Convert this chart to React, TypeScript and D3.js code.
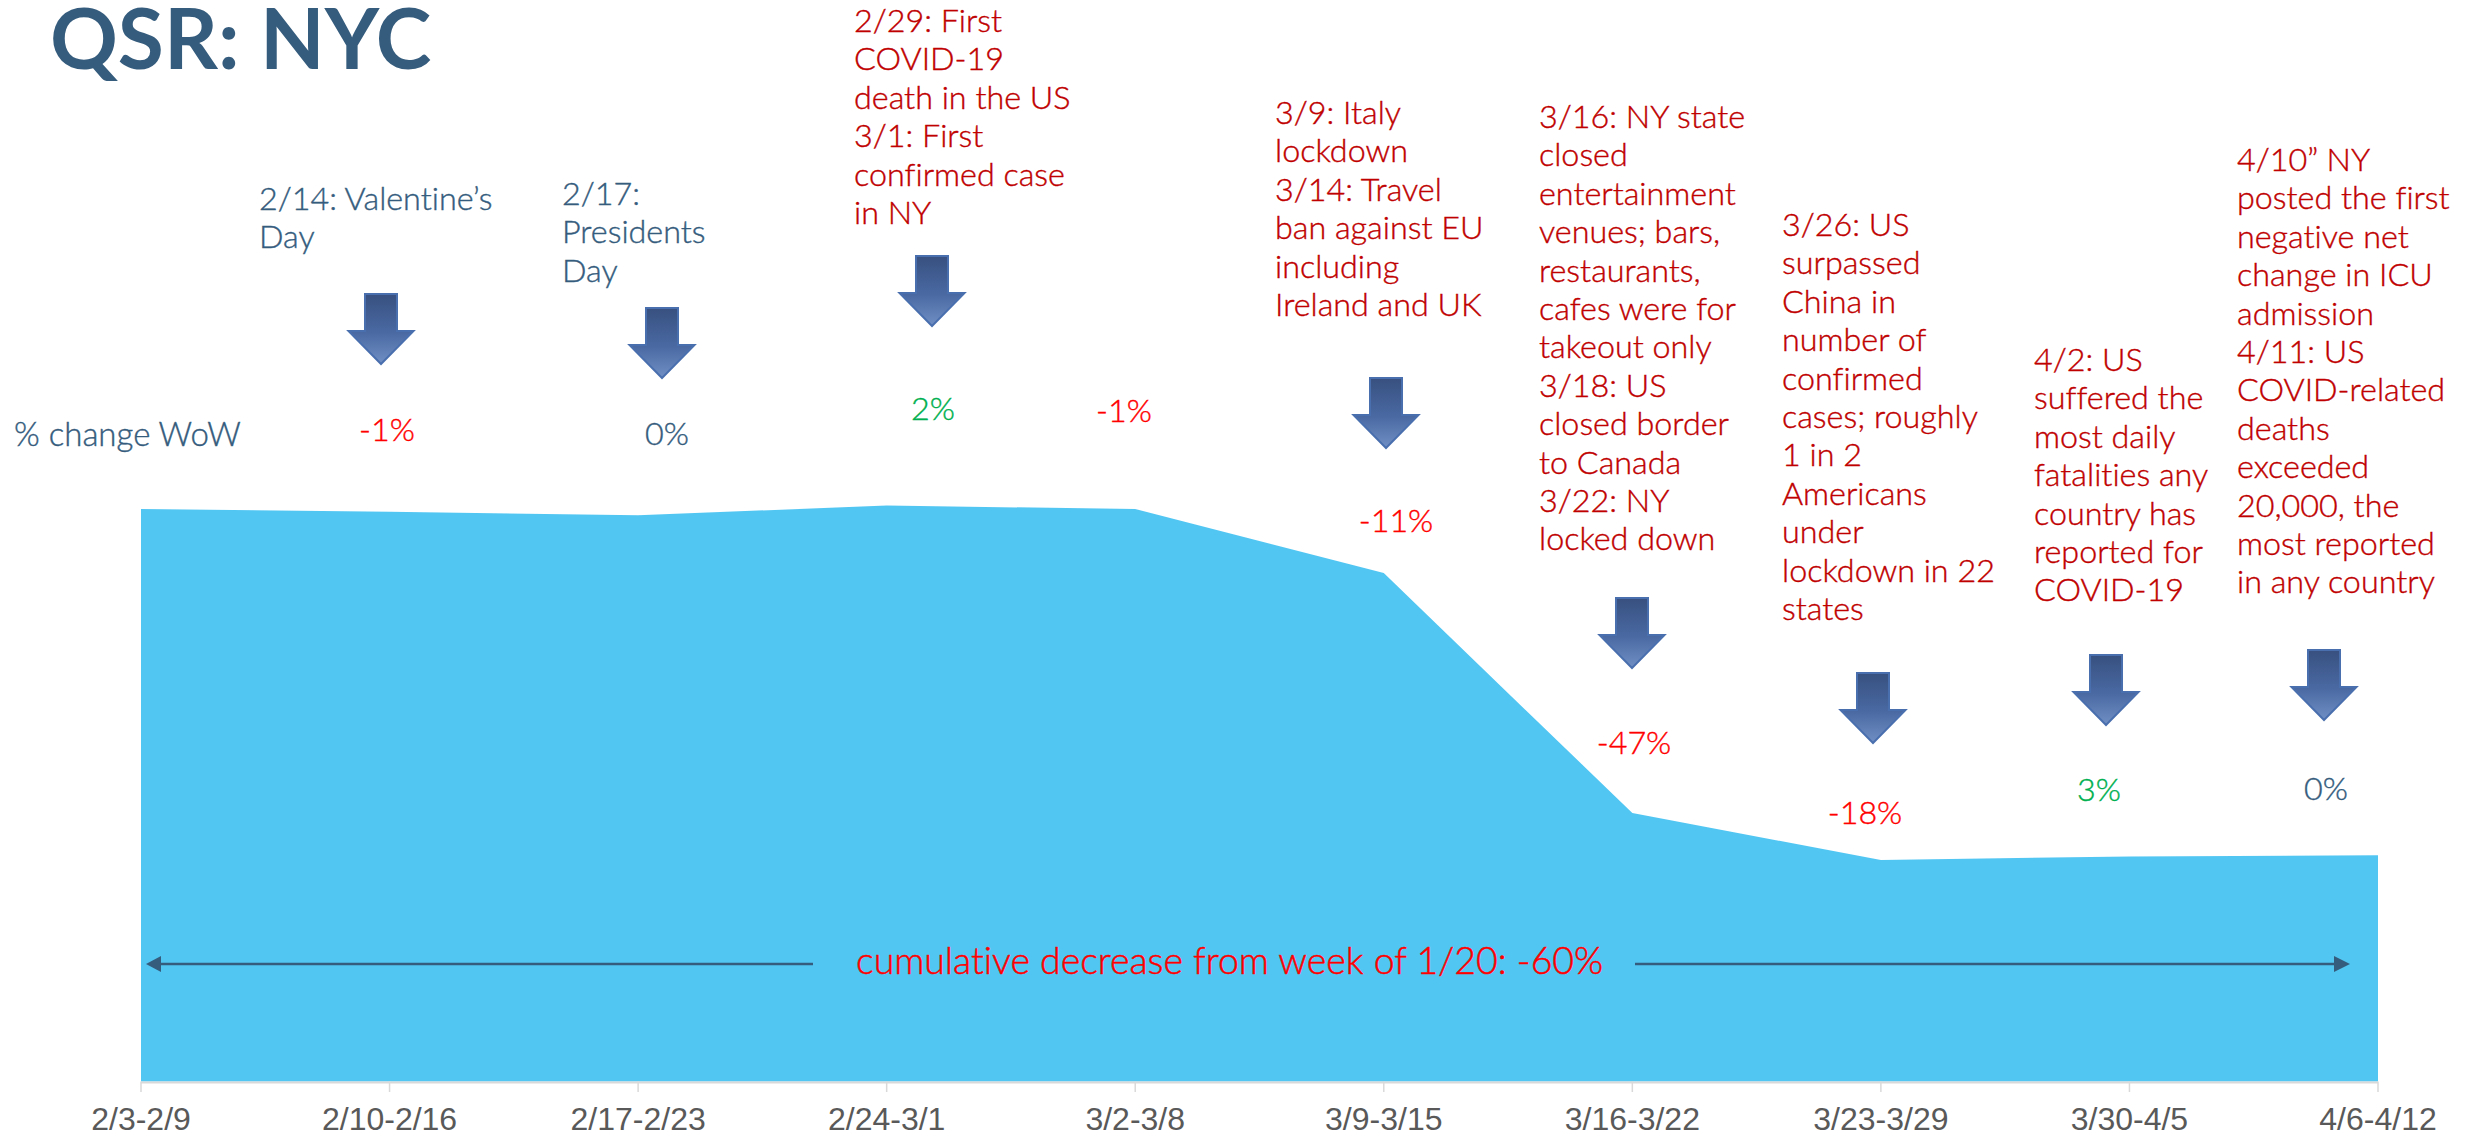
import React from "react";
import * as d3 from "d3";

const weeks = ["2/3-2/9","2/10-2/16","2/17-2/23","2/24-3/1","3/2-3/8","3/9-3/15","3/16-3/22","3/23-3/29","3/30-4/5","4/6-4/12"];
const indexValues = [100, 99.5, 98.9, 100.6, 100, 88.8, 46.9, 38.7, 39.3, 39.5];

const SLATE = "#355C7D";
const DARK_RED = "#C00000";
const RED = "#FF0000";
const GREEN = "#00B050";

const changeLabels = [
  { t: "-1%", x: 387, y: 441, c: RED },
  { t: "0%", x: 667, y: 445, c: SLATE },
  { t: "2%", x: 933, y: 420, c: GREEN },
  { t: "-1%", x: 1124, y: 422, c: RED },
  { t: "-11%", x: 1396, y: 532, c: RED },
  { t: "-47%", x: 1634, y: 754, c: RED },
  { t: "-18%", x: 1865, y: 824, c: RED },
  { t: "3%", x: 2099, y: 801, c: GREEN },
  { t: "0%", x: 2326, y: 800, c: SLATE },
];

const notes = [
  { x: 259, y: 210, c: SLATE, lines: ["2/14: Valentine’s", "Day"] },
  { x: 562, y: 205, c: SLATE, lines: ["2/17:", "Presidents", "Day"] },
  { x: 854, y: 32, c: DARK_RED, lines: ["2/29: First", "COVID-19", "death in the US", "3/1: First", "confirmed case", "in NY"] },
  { x: 1275, y: 124, c: DARK_RED, lines: ["3/9: Italy", "lockdown", "3/14: Travel", "ban against EU", "including", "Ireland and UK"] },
  { x: 1539, y: 128, c: DARK_RED, lines: ["3/16: NY state", "closed", "entertainment", "venues; bars,", "restaurants,", "cafes were for", "takeout only", "3/18: US", "closed border", "to Canada", "3/22: NY", "locked down"] },
  { x: 1782, y: 236, c: DARK_RED, lines: ["3/26: US", "surpassed", "China in", "number of", "confirmed", "cases; roughly", "1 in 2", "Americans", "under", "lockdown in 22", "states"] },
  { x: 2034, y: 371, c: DARK_RED, lines: ["4/2: US", "suffered the", "most daily", "fatalities any", "country has", "reported for", "COVID-19"] },
  { x: 2237, y: 171, c: DARK_RED, lines: ["4/10” NY", "posted the first", "negative net", "change in ICU", "admission", "4/11: US", "COVID-related", "deaths", "exceeded", "20,000, the", "most reported", "in any country"] },
];

const arrowCenters = [381, 662, 932, 1386, 1632, 1873, 2106, 2324];
const arrowTops = [294, 308, 256, 378, 598, 673, 655, 650];

const x = d3.scalePoint<string>().domain(weeks).range([141, 2378]);
const y = d3.scaleLinear().domain([0, 100]).range([1081.5, 509]);
const area = d3
  .area<number>()
  .x((_, i) => x(weeks[i]) as number)
  .y0(y(0))
  .y1((d) => y(d));

const SANS = "Lato, 'Noto Sans', sans-serif";

export default function App() {
  return (
    <svg
      width={2470}
      height={1137}
      viewBox="0 0 2470 1137"
      style={{ position: "absolute", left: 0, top: 0, background: "#fff", fontVariantLigatures: "none" }}
      fontFamily={SANS}
    >
      <defs>
        <linearGradient id="arrowFill" x1="0" y1="0" x2="0" y2="1">
          <stop offset="0" stopColor="#37507F" />
          <stop offset="0.55" stopColor="#4A69A3" />
          <stop offset="1" stopColor="#6F8FC4" />
        </linearGradient>
      </defs>

      <text x={50} y={69} fontSize={84} fontWeight={700} fill={SLATE}>QSR: NYC</text>

      <path d={area(indexValues) as string} fill="#52C6F3" />

      <line x1={141} x2={2378} y1={y(0) + 1} y2={y(0) + 1} stroke="#D9D9D9" strokeWidth={2} />
      {weeks.map((w) => (
        <g key={w} transform={`translate(${x(w)},0)`}>
          <line y1={y(0)} y2={1092} stroke="#D9D9D9" strokeWidth={1.5} />
          <text y={1130} textAnchor="middle" fontFamily="'Liberation Sans', Arial, sans-serif" fontSize={32} fill="#595959">{w}</text>
        </g>
      ))}

      {arrowCenters.map((cx, i) => {
        const t = arrowTops[i];
        const p = [
          [cx - 16, t], [cx + 16, t], [cx + 16, t + 37], [cx + 32.5, t + 37],
          [cx, t + 70], [cx - 32.5, t + 37], [cx - 16, t + 37],
        ];
        return <polygon key={i} points={p.join(" ")} fill="url(#arrowFill)" stroke="#4A6FAE" strokeWidth={2} />;
      })}

      {notes.map((n, i) => (
        <text key={i} fontSize={32.3} fontWeight={300} fill={n.c} stroke={n.c} strokeWidth={0.4}>
          {n.lines.map((l, j) => (
            <tspan key={j} x={n.x} y={n.y + j * 38.4}>{l}</tspan>
          ))}
        </text>
      ))}

      <text x={14} y={446} fontSize={33} fontWeight={300} fill={SLATE} stroke={SLATE} strokeWidth={0.4}>% change WoW</text>
      {changeLabels.map((l, i) => (
        <text key={i} x={l.x} y={l.y} textAnchor="middle" fontSize={32.3} fontWeight={300} fill={l.c} stroke={l.c} strokeWidth={0.4}>{l.t}</text>
      ))}

      <line x1={158} x2={813} y1={964} y2={964} stroke={SLATE} strokeWidth={2.5} />
      <polygon points="146,964 161,956 161,972" fill={SLATE} />
      <line x1={1635} x2={2336} y1={964} y2={964} stroke={SLATE} strokeWidth={2.5} />
      <polygon points="2350,964 2334,956 2334,972" fill={SLATE} />
      <text x={856} y={974} fontSize={37.4} fontWeight={300} fill={RED} stroke={RED} strokeWidth={0.5}>cumulative decrease from week of 1/20: -60%</text>
    </svg>
  );
}
